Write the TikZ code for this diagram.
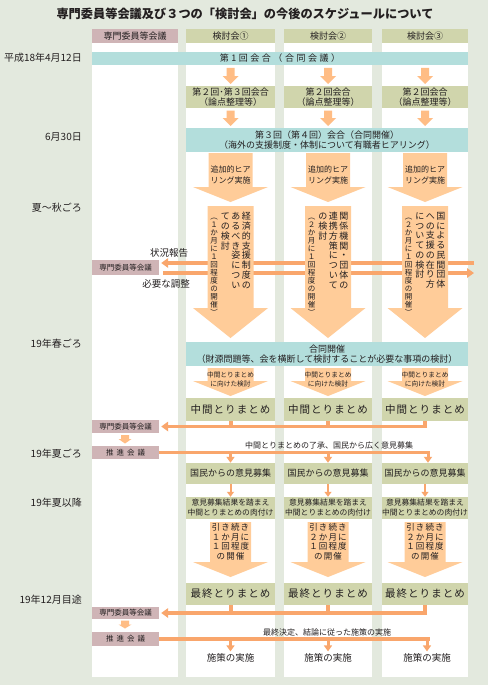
\documentclass[tikz,border=0pt]{standalone}
\usepackage{fontspec}
\setmainfont{Noto Sans CJK JP}
\usetikzlibrary{arrows.meta}
\definecolor{bgc}{HTML}{E3E9DE}
\definecolor{pinkc}{HTML}{CFB4B6}
\definecolor{olivec}{HTML}{D0D5AC}
\definecolor{tealc}{HTML}{B3DEDC}
\definecolor{peachc}{HTML}{FFCC99}
\definecolor{linec}{HTML}{F9A66C}
\definecolor{sarrc}{HTML}{FFBD85}
\definecolor{txt}{HTML}{231F20}
\newcommand\fsz[2]{\fontsize{#1}{#2}\selectfont}
\newcommand\lsp[1]{\addfontfeatures{LetterSpace=#1}}
\def\vtaux#1{\ifx\relax#1\else\hbox to 1em{\hss#1\hss}\expandafter\vtaux\fi}
\newcommand\vcol[2]{\vtop{\baselineskip=#1\lineskiplimit=-20pt\lineskip=0pt\vtaux#2\relax}}
\newcommand\myarrow[7][]{\fill[#1] (#2-#6,#3) -- (#2+#6,#3) -- (#2+#6,#4) -- (#2+#7,#4) -- (#2,#5) -- (#2-#7,#4) -- (#2-#6,#4) -- cycle;}
\tikzset{
  olv/.style={fill=olivec},
  pnk/.style={fill=pinkc},
  tel/.style={fill=tealc},
  oline/.style={draw=linec, line width=3.6pt},
  lhead/.style={-{Triangle[length=7pt,width=9.5pt]}},
  dhead/.style={-{Triangle[length=6pt,width=8pt]}},
  thinarr/.style={draw=linec, line width=2pt, -{Triangle[length=5pt,width=7pt]}},
}
\begin{document}
\begin{tikzpicture}[x=1pt,y=-1pt,every node/.style={text=txt, inner sep=0pt, align=center}]
\useasboundingbox (0,0) rectangle (488,685);
\fill[bgc] (0,0) rectangle (488,685);
% title
\node[font=\fsz{12.2}{14}\bfseries] (title) at (245,14) {専門委員等会議及び３つの「検討会」の今後のスケジュールについて};
% white columns
\fill[white] (92,29) rectangle (178,677);
\fill[white] (186,29) rectangle (275,677);
\fill[white] (284,29) rectangle (372,677);
\fill[white] (382,29) rectangle (468,677);
% headers
\node[pnk, minimum width=86pt, minimum height=14pt, font=\fsz{9}{10}] (h0) at (135,36) {専門委員等会議};
\node[olv, minimum width=89pt, minimum height=14pt, font=\fsz{9}{10}] (h1) at (230.5,36) {検討会①};
\node[olv, minimum width=88pt, minimum height=14pt, font=\fsz{9}{10}] (h2) at (328,36) {検討会②};
\node[olv, minimum width=86pt, minimum height=14pt, font=\fsz{9}{10}] (h3) at (425,36) {検討会③};
% dates
\node[anchor=east, font=\fsz{10}{12}] (d1) at (82,58) {平成18年4月12日};
\node[anchor=east, font=\fsz{10}{12}] (d2) at (82,137) {6月30日};
\node[anchor=east, font=\fsz{10}{12}] (d3) at (82,208) {夏～秋ごろ};
\node[anchor=east, font=\fsz{10}{12}] (d4) at (82,344) {19年春ごろ};
\node[anchor=east, font=\fsz{10}{12}] (d5) at (82,454) {19年夏ごろ};
\node[anchor=east, font=\fsz{10}{12}] (d6) at (82,503) {19年夏以降};
\node[anchor=east, font=\fsz{10}{12}] (d7) at (82,600) {19年12月目途};
% row 1
\node[tel, minimum width=376pt, minimum height=13pt, font=\fsz{9}{10}\lsp{28}] (t1) at (280,58.5) {第1回会合（合同会議）};
\myarrow[fill=sarrc]{230.5}{68}{76}{84}{4}{8}
\myarrow[fill=sarrc]{328}{68}{76}{84}{4}{8}
\myarrow[fill=sarrc]{425}{68}{76}{84}{4}{8}
\node[olv, minimum width=89pt, minimum height=22pt, font=\fsz{9}{10}] (r1) at (230.5,97) {第２回･第３回会合\\（論点整理等）};
\node[olv, minimum width=88pt, minimum height=22pt, font=\fsz{9}{10}] (r2) at (328,97) {第２回会合\\（論点整理等）};
\node[olv, minimum width=86pt, minimum height=22pt, font=\fsz{9}{10}] (r3) at (425,97) {第２回会合\\（論点整理等）};
\myarrow[fill=sarrc]{230.5}{110.5}{118}{126}{4}{8}
\myarrow[fill=sarrc]{328}{110.5}{118}{126}{4}{8}
\myarrow[fill=sarrc]{425}{110.5}{118}{126}{4}{8}
\node[tel, minimum width=282pt, minimum height=24pt, font=\fsz{9}{10.5}] (t2) at (327,140) {第３回（第４回）会合（合同開催）\\（海外の支援制度・体制について有職者ヒアリング）};
% arrows A
\myarrow[fill=peachc]{230.5}{153}{187}{202}{22}{37.5}
\myarrow[fill=peachc]{328}{153}{187}{202}{22}{37.5}
\myarrow[fill=peachc]{425}{153}{187}{202}{22}{37.5}
\node[font=\fsz{8}{11.5}] (a1) at (230.5,175) {追加的ヒア\\リング実施};
\node[font=\fsz{8}{11.5}] (a2) at (328,175) {追加的ヒア\\リング実施};
\node[font=\fsz{8}{11.5}] (a3) at (425,175) {追加的ヒア\\リング実施};
% status lines
\node[pnk, minimum width=67pt, minimum height=15pt, font=\fsz{7.5}{8}] (st) at (125.5,267.5) {専門委員等会議};
\coordinate (R1) at (474,263);
\coordinate (R2) at (474,273);
\draw[oline, lhead] (R1) -- ([xshift=2pt,yshift=4.5pt]st.east);
\draw[oline, lhead] ([xshift=4pt,yshift=-5.5pt]st.east) -- (R2);
\node[font=\fsz{9.5}{10}] (sr) at (169,253) {状況報告};
\node[font=\fsz{9.5}{10}] (nc) at (166,284) {必要な調整};
% arrows B
\myarrow[fill=peachc]{230.5}{206}{308}{338}{23}{37.5}
\myarrow[fill=peachc]{328}{206}{308}{338}{23}{37.5}
\myarrow[fill=peachc]{425}{206}{308}{338}{23}{37.5}
\node[anchor=north] (v1) at (230.5,212) {\hbox{\fsz{7.5}{8}\vcol{8pt}{︵１か月に１回程度の開催︶}\hskip3pt\fsz{9}{10}\vcol{9.75pt}{ての検討}\hskip1.5pt\vcol{9.75pt}{あるべき姿につい}\hskip1.5pt\vcol{9.75pt}{経済的支援制度の}}};
\node[anchor=north] (v2) at (328,212) {\hbox{\fsz{7.5}{8}\vcol{8pt}{︵２か月に１回程度の開催︶}\hskip3pt\fsz{9}{10}\vcol{9.75pt}{の検討}\hskip1.5pt\vcol{9.75pt}{連携方策について}\hskip1.5pt\vcol{9.75pt}{関係機関・団体の}}};
\node[anchor=north] (v3) at (425,212) {\hbox{\fsz{7.5}{8}\vcol{8pt}{︵２か月に１回程度の開催︶}\hskip3pt\fsz{9}{10}\vcol{9.75pt}{についての検討}\hskip1.5pt\vcol{9.75pt}{への支援の在り方}\hskip1.5pt\vcol{9.75pt}{国による民間団体}}};
% joint meeting
\node[tel, minimum width=282pt, minimum height=24pt, font=\fsz{9}{10.5}] (t3) at (327,354) {合同開催\\（財源問題等、会を横断して検討することが必要な事項の検討）};
\myarrow[fill=peachc]{230.5}{368}{381}{396}{23}{37.5}
\myarrow[fill=peachc]{328}{368}{381}{396}{23}{37.5}
\myarrow[fill=peachc]{425}{368}{381}{396}{23}{37.5}
\node[font=\fsz{6.7}{9}] (c1) at (230.5,379.5) {中間とりまとめ\\に向けた検討};
\node[font=\fsz{6.7}{9}] (c2) at (328,379.5) {中間とりまとめ\\に向けた検討};
\node[font=\fsz{6.7}{9}] (c3) at (425,379.5) {中間とりまとめ\\に向けた検討};
\node[olv, minimum width=89pt, minimum height=23pt, font=\fsz{10.5}{12}\lsp{10}] (m1) at (230.5,409.5) {中間とりまとめ};
\node[olv, minimum width=88pt, minimum height=23pt, font=\fsz{10.5}{12}\lsp{10}] (m2) at (328,409.5) {中間とりまとめ};
\node[olv, minimum width=86pt, minimum height=23pt, font=\fsz{10.5}{12}\lsp{10}] (m3) at (425,409.5) {中間とりまとめ};
% interim report lines
\node[pnk, minimum width=67pt, minimum height=13pt, font=\fsz{7.5}{8}] (s1) at (125.5,426.5) {専門委員等会議};
\draw[draw=linec, line width=4pt] (m1.south) -- ++(0,7);
\draw[draw=linec, line width=4pt] (m2.south) -- ++(0,7);
\draw[draw=linec, line width=4pt] (m3.south) -- ++(0,7);
\draw[oline, lhead] (m3.south |- s1.east) ++(2,0) -- ([xshift=2pt]s1.east);
\node[pnk, minimum width=67pt, minimum height=13pt, font=\fsz{7.5}{8}\lsp{40}] (p1) at (125.5,452.5) {推進会議};
\myarrow[fill=sarrc]{125}{435}{439}{443.5}{4}{6.5}
\node[olv, minimum width=89pt, minimum height=21pt, font=\fsz{9}{10}] (k1) at (230.5,473.5) {国民からの意見募集};
\node[olv, minimum width=88pt, minimum height=21pt, font=\fsz{9}{10}] (k2) at (328,473.5) {国民からの意見募集};
\node[olv, minimum width=86pt, minimum height=21pt, font=\fsz{9}{10}] (k3) at (425,473.5) {国民からの意見募集};
\draw[oline] (p1.east) -- ([xshift=5pt]k3.north |- p1.east);
\draw[draw=linec, line width=3pt, dhead] (k1.north |- p1.east) -- (k1.north);
\draw[draw=linec, line width=3pt, dhead] (k2.north |- p1.east) -- (k2.north);
\draw[draw=linec, line width=3pt, dhead] ([xshift=3pt]k3.north |- p1.east) -- ([xshift=3pt]k3.north);
\node[font=\fsz{8}{9}] (lb1) at (329,445) {中間とりまとめの了承、国民から広く意見募集};
\node[olv, minimum width=89pt, minimum height=22pt, font=\fsz{7.8}{10}] (j1) at (230.5,508) {意見募集結果を踏まえ\\中間とりまとめの肉付け};
\node[olv, minimum width=88pt, minimum height=22pt, font=\fsz{7.8}{10}] (j2) at (328,508) {意見募集結果を踏まえ\\中間とりまとめの肉付け};
\node[olv, minimum width=86pt, minimum height=22pt, font=\fsz{7.8}{10}] (j3) at (425,508) {意見募集結果を踏まえ\\中間とりまとめの肉付け};
\draw[thinarr] (k1.south) -- (j1.north);
\draw[thinarr] (k2.south) -- (j2.north);
\draw[thinarr] (k3.south) -- (j3.north);
% arrows D
\myarrow[fill=peachc]{230.5}{522}{562}{577}{20.5}{37.5}
\myarrow[fill=peachc]{328}{522}{562}{577}{20.5}{37.5}
\myarrow[fill=peachc]{425}{522}{562}{577}{20.5}{37.5}
\node[font=\fsz{8.5}{9.5}\lsp{12}] (e1) at (230.5,542) {引き続き\\１か月に\\１回程度\\の開催};
\node[font=\fsz{8.5}{9.5}\lsp{12}] (e2) at (328,542) {引き続き\\２か月に\\１回程度\\の開催};
\node[font=\fsz{8.5}{9.5}\lsp{12}] (e3) at (425,542) {引き続き\\２か月に\\１回程度\\の開催};
% final
\node[olv, minimum width=89pt, minimum height=22pt, font=\fsz{10.5}{12}\lsp{10}] (f1) at (230.5,594) {最終とりまとめ};
\node[olv, minimum width=88pt, minimum height=22pt, font=\fsz{10.5}{12}\lsp{10}] (f2) at (328,594) {最終とりまとめ};
\node[olv, minimum width=86pt, minimum height=22pt, font=\fsz{10.5}{12}\lsp{10}] (f3) at (425,594) {最終とりまとめ};
\node[pnk, minimum width=67pt, minimum height=12pt, font=\fsz{7.5}{8}] (s2) at (125.5,613) {専門委員等会議};
\draw[draw=linec, line width=4pt] (f1.south) -- ++(0,8.5);
\draw[draw=linec, line width=4pt] (f2.south) -- ++(0,8.5);
\draw[draw=linec, line width=4pt] (f3.south) -- ++(0,8.5);
\draw[oline, lhead] (f3.south |- s2.east) ++(2,0) -- ([xshift=2pt]s2.east);
\myarrow[fill=sarrc]{125}{620.5}{624.5}{628.5}{4}{6.5}
\node[pnk, minimum width=67pt, minimum height=14pt, font=\fsz{7.5}{8}\lsp{40}] (p2) at (125.5,639) {推進会議};
\node[font=\fsz{9.5}{10}] (x1) at (230.5,657.5) {施策の実施};
\node[font=\fsz{9.5}{10}] (x2) at (328,657.5) {施策の実施};
\node[font=\fsz{9.5}{10}] (x3) at (427,657.5) {施策の実施};
\draw[oline] (p2.east) -- ([xshift=3pt]x3.north |- p2.east);
\draw[draw=linec, line width=3pt, dhead, shorten >=1.5pt] (x1.north |- p2.east) -- (x1.north);
\draw[draw=linec, line width=3pt, dhead, shorten >=1.5pt] (x2.north |- p2.east) -- (x2.north);
\draw[draw=linec, line width=3pt, dhead, shorten >=1.5pt] (x3.north |- p2.east) -- (x3.north);
\node[font=\fsz{8}{9}] (lb2) at (327,632) {最終決定、結論に従った施策の実施};
\end{tikzpicture}
\end{document}
